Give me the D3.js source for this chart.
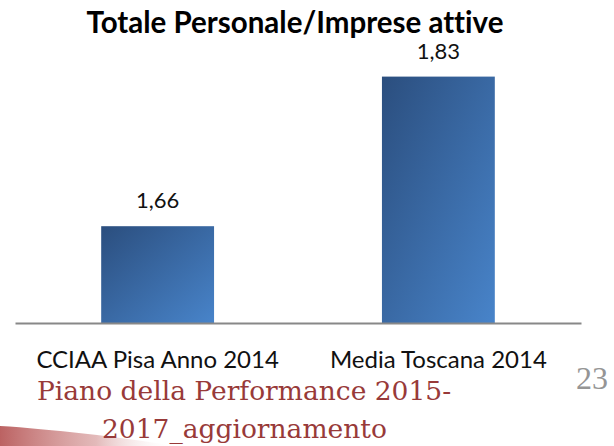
<!DOCTYPE html>
<html>
<head>
<meta charset="utf-8">
<script src="https://cdn.jsdelivr.net/npm/d3@7"></script>
<style>
  body { margin: 0; background: #fff; }
  svg { display: block; }
  text { font-variant-ligatures: none; }
</style>
</head>
<body>
<script>
// chart data
var categories = ['CCIAA Pisa Anno 2014', 'Media Toscana 2014'];
var values = [1.66, 1.83];
var valueLabels = ['1,66', '1,83'];
var title = 'Totale Personale/Imprese attive';
var footerLines = ['Piano della Performance 2015-', '2017_aggiornamento'];
var pageNumber = '23';

var width = 614, height = 446;

var svg = d3.select('body').append('svg')
    .attr('width', width)
    .attr('height', height);

var defs = svg.append('defs');

// diagonal blue gradient on the bars
var barGrad = defs.append('linearGradient')
    .attr('id', 'barGrad')
    .attr('x1', '0%').attr('y1', '0%')
    .attr('x2', '100%').attr('y2', '100%');
barGrad.append('stop').attr('offset', '0%').attr('stop-color', '#2b4e7e');
barGrad.append('stop').attr('offset', '100%').attr('stop-color', '#4884ca');

// red swoosh at the bottom left
var swooshGrad = defs.append('linearGradient')
    .attr('id', 'swooshGrad')
    .attr('x1', '0%').attr('y1', '0%')
    .attr('x2', '100%').attr('y2', '0%');
swooshGrad.append('stop').attr('offset', '0%').attr('stop-color', '#b85a5a').attr('stop-opacity', 0.95);
swooshGrad.append('stop').attr('offset', '55%').attr('stop-color', '#d08c8c').attr('stop-opacity', 0.6);
swooshGrad.append('stop').attr('offset', '100%').attr('stop-color', '#ffffff').attr('stop-opacity', 0);

svg.append('path')
    .attr('d', 'M0,426 C50,429 120,437 175,446 L0,446 Z')
    .attr('fill', 'url(#swooshGrad)');

var x = d3.scaleBand()
    .domain(categories)
    .range([15, 581])
    .paddingInner(0.598)
    .paddingOuter(0.307);

var y = d3.scaleLinear()
    .domain([1.55, 1.85])
    .range([323, 59]);

// title
svg.append('text')
    .attr('x', 295)
    .attr('y', 33)
    .attr('text-anchor', 'middle')
    .style('font-family', 'Lato, sans-serif')
    .style('font-weight', 'bold')
    .style('font-size', '29.5px')
    .text(title);

// bars
svg.selectAll('rect.bar')
    .data(values)
  .enter().append('rect')
    .attr('class', 'bar')
    .attr('x', function(d, i) { return x(categories[i]); })
    .attr('y', function(d) { return y(d); })
    .attr('width', x.bandwidth())
    .attr('height', function(d) { return y.range()[0] - y(d); })
    .attr('fill', 'url(#barGrad)');

// value labels
svg.selectAll('text.value')
    .data(values)
  .enter().append('text')
    .attr('class', 'value')
    .attr('x', function(d, i) { return x(categories[i]) + x.bandwidth() / 2; })
    .attr('y', function(d) { return y(d) - 18; })
    .attr('text-anchor', 'middle')
    .style('font-family', 'Lato, sans-serif')
    .style('font-size', '22px')
    .style('fill', '#111')
    .text(function(d, i) { return valueLabels[i]; });

// category axis
var axis = svg.append('g')
    .attr('transform', 'translate(0,' + y.range()[0] + ')')
    .call(d3.axisBottom(x).tickSize(0).tickPadding(28));
axis.select('.domain')
    .attr('stroke', '#888')
    .attr('stroke-width', 2);
axis.selectAll('text')
    .style('font-family', 'Lato, sans-serif')
    .style('font-size', '24px')
    .style('fill', '#111');

// footer
svg.selectAll('text.footer')
    .data(footerLines)
  .enter().append('text')
    .attr('class', 'footer')
    .attr('x', function(d, i) { return i === 0 ? 37 : 102; })
    .attr('y', function(d, i) { return 400 + i * 38; })
    .style('font-family', '"DejaVu Serif", serif')
    .style('font-size', '26.5px')
    .style('fill', '#983a39')
    .text(function(d) { return d; });

svg.append('text')
    .attr('x', 608)
    .attr('y', 389)
    .attr('text-anchor', 'end')
    .style('font-family', '"Liberation Serif", serif')
    .style('font-size', '32px')
    .style('fill', '#959595')
    .text(pageNumber);
</script>
</body>
</html>
